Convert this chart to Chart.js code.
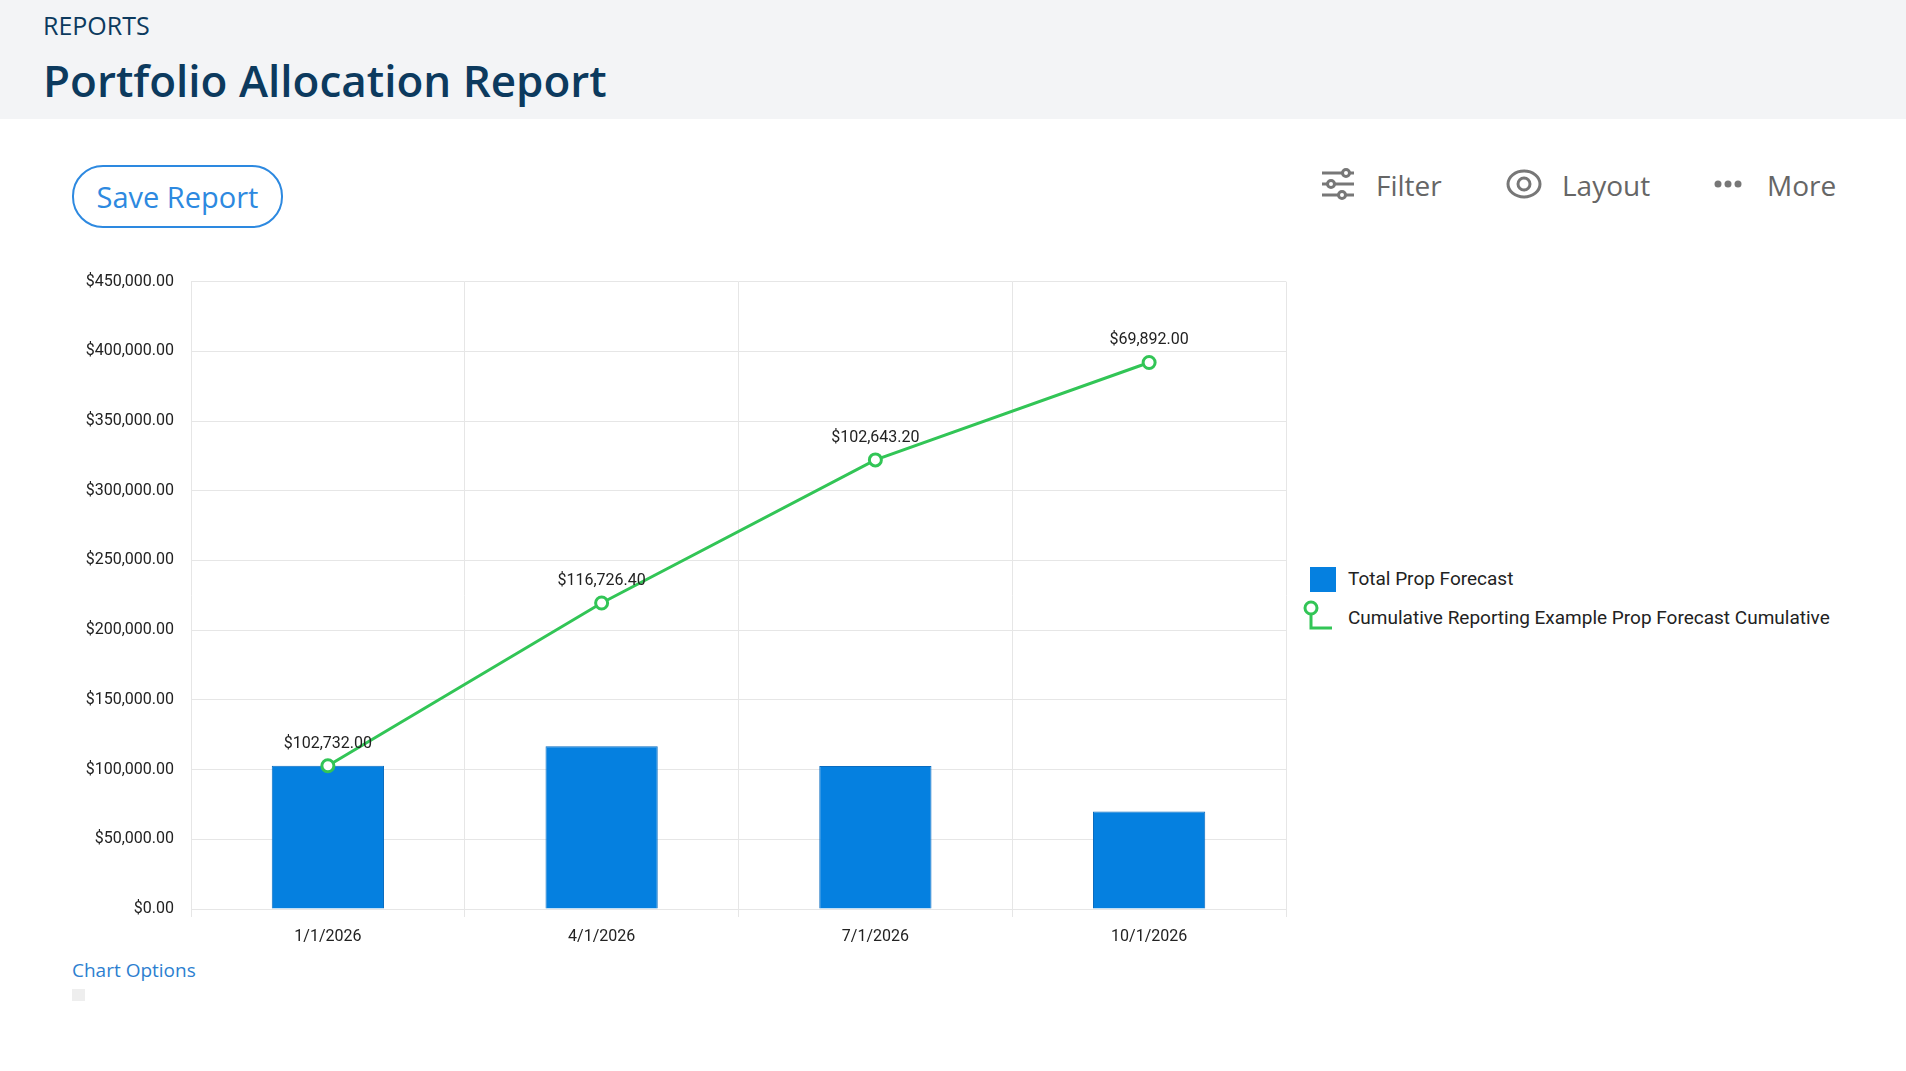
<!DOCTYPE html>
<html><head><meta charset="utf-8">
<script src="https://cdn.jsdelivr.net/npm/chart.js@4"></script>
<style>
body{margin:0;width:1906px;height:1071px;background:#fff;position:relative;overflow:hidden;font-family:Roboto,sans-serif}
#hdr{position:absolute;left:0;top:0;width:1906px;height:119px;background:#f3f4f6}
#rep{position:absolute;left:43px;top:8px;font:400 25px "Open Sans";color:#0c3a5e}
#ttl{position:absolute;left:43px;top:50px;font:600 44px "Open Sans";color:#0c3a5e}
#save{position:absolute;left:72px;top:165px;width:207px;height:59px;border:2px solid #2d89e0;border-radius:31px;box-sizing:content-box;font:400 29px "Open Sans";color:#2d89e0;text-align:center;line-height:59px}
.tb{position:absolute;top:166px;font:400 28px "Open Sans";color:#666}
#leg{position:absolute;left:1310px;top:564px;font:400 19px Roboto;color:#222}
.li{position:relative;height:39px;line-height:30px;padding-left:38px}
#co{position:absolute;left:72px;top:957px;font:400 19px "Open Sans";color:#2d7fd0}
#wrap{position:absolute;left:0;top:255px;width:1300px;height:700px}
</style></head><body>
<div id="hdr"></div><div id="rep">REPORTS</div><div id="ttl">Portfolio Allocation Report</div>
<div id="save">Save Report</div>
<div class="tb" style="left:1320px"><svg width="36" height="36" viewBox="0 0 36 36" style="vertical-align:-6px;margin-right:20px" stroke="#777" stroke-width="3" fill="#fff"><line x1="2" y1="7" x2="34" y2="7"/><line x1="2" y1="18" x2="34" y2="18"/><line x1="2" y1="29" x2="34" y2="29"/><circle cx="26" cy="7" r="3.5"/><circle cx="11" cy="18" r="3.5"/><circle cx="22" cy="29" r="3.5"/></svg>Filter</div>
<div class="tb" style="left:1506px"><svg width="36" height="36" viewBox="0 0 36 36" style="vertical-align:-6px;margin-right:20px" stroke="#777" stroke-width="3" fill="none"><ellipse cx="18" cy="18" rx="16" ry="13"/><circle cx="18" cy="18" r="6"/></svg>Layout</div>
<div class="tb" style="left:1713px"><svg width="32" height="36" viewBox="0 0 32 36" style="vertical-align:-6px;margin-right:22px" fill="#777"><circle cx="5" cy="18" r="3.5"/><circle cx="15" cy="18" r="3.5"/><circle cx="25" cy="18" r="3.5"/></svg>More</div>
<div id="wrap"><canvas id="c"></canvas></div>
<div id="leg">
<div class="li"><span style="position:absolute;left:0;top:3px;width:26px;height:25px;background:#0580e0"></span>Total Prop Forecast</div>
<div class="li"><svg width="34" height="34" style="position:absolute;left:-8px;top:-3px"><circle cx="9" cy="8" r="6" fill="#fff" stroke="#32c556" stroke-width="3"/><polyline points="9,14 9,28 30,28" fill="none" stroke="#32c556" stroke-width="3"/></svg>Cumulative Reporting Example Prop Forecast Cumulative</div>
</div>
<div id="co">Chart Options<div style="width:13px;height:12px;background:#eee;margin-top:6px"></div></div>
<script>
const categories=["1/1/2026","4/1/2026","7/1/2026","10/1/2026"];
const totalForecast=[102732.00,116726.40,102643.20,69892.00];
const cumulativeForecast=[102732.00,219458.40,322101.60,391993.60];
const fmt=v=>'$'+v.toLocaleString('en-US',{minimumFractionDigits:2,maximumFractionDigits:2});
const labelPlugin={id:'lbl',afterDatasetsDraw(ch){const ctx=ch.ctx;const m=ch.getDatasetMeta(0);ctx.save();ctx.font='16px Roboto';ctx.fillStyle='#222';ctx.textAlign='center';ctx.textBaseline='bottom';
m.data.forEach((b,i)=>ctx.fillText(fmt(totalForecast[i]),b.x,b.y-14));ctx.restore();}};
new Chart(document.getElementById('c'),{
data:{labels:categories,datasets:[
{type:'line',label:'Cumulative Reporting Example Prop Forecast Cumulative',data:cumulativeForecast,borderColor:'#32c556',borderWidth:3,pointRadius:6,pointBorderWidth:3,pointBackgroundColor:'#fff',pointBorderColor:'#32c556',tension:0,order:0},
{type:'bar',label:'Total Prop Forecast',data:totalForecast,backgroundColor:'#0580e0',borderColor:'#0a6cc0',borderWidth:1,barPercentage:0.41,categoryPercentage:1,order:1}]},
options:{responsive:true,maintainAspectRatio:false,animation:false,
layout:{padding:{top:17,right:14,left:0,bottom:0}},
plugins:{legend:{display:false},tooltip:{enabled:false}},
scales:{
x:{offset:true,grid:{offset:true,color:'#e6e6e6',tickLength:8},border:{color:'#e6e6e6'},ticks:{font:{family:'Roboto',size:16},color:'#222',padding:10},afterFit(s){s.height=46;}},
y:{min:0,max:450000,grid:{color:'#e6e6e6',drawTicks:false},border:{display:false},ticks:{stepSize:50000,font:{family:'Roboto',size:16},color:'#222',padding:17,callback:v=>fmt(v)},afterFit(s){s.width=191;}}}},
plugins:[labelPlugin]});
</script></body></html>
